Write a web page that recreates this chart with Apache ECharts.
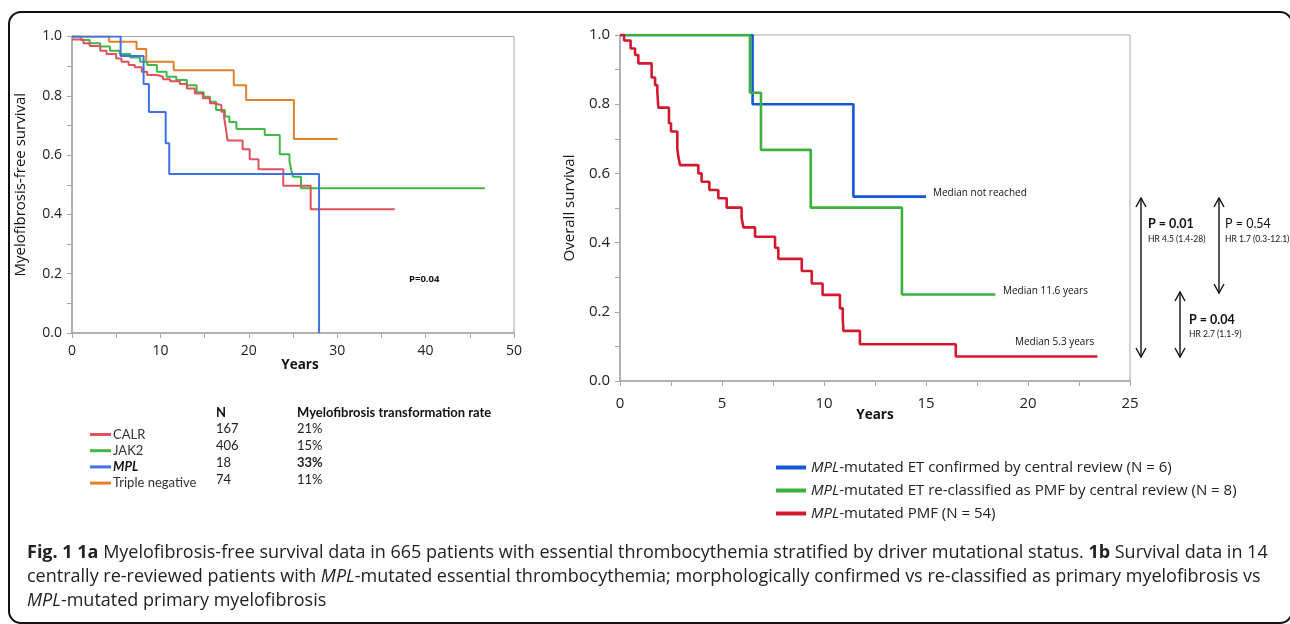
<!DOCTYPE html>
<html>
<head>
<meta charset="utf-8">
<script src="https://cdn.jsdelivr.net/npm/echarts@6/dist/echarts.min.js"></script>
<style>
  html, body { margin: 0; padding: 0; background: #fff; }
  #chart { width: 1290px; height: 624px; }
</style>
</head>
<body>
<div id="chart"></div>
<script>
// fig 1a: myelofibrosis-free survival by driver mutation (years, survival)
const calrT = [0, 1.3, 2.0, 3.2, 3.9, 5.0, 5.6, 6.4, 7.1, 7.9, 8.5, 9.6, 10.3, 11.1, 12.2, 13.0, 13.9, 14.8, 15.6, 16.0, 16.9, 17.2, 17.4, 17.6, 19.3, 20.1, 21.1, 23.9, 27.0, 36.5]
const calrS = [0.99, 0.977, 0.968, 0.952, 0.941, 0.926, 0.915, 0.904, 0.896, 0.881, 0.870, 0.864, 0.856, 0.849, 0.840, 0.825, 0.808, 0.792, 0.775, 0.769, 0.746, 0.728, 0.690, 0.649, 0.620, 0.586, 0.552, 0.497, 0.417, 0.417]
const jak2T = [0, 1.0, 2.0, 3.2, 4.3, 5.4, 6.6, 7.7, 8.5, 9.6, 10.7, 11.8, 13.0, 14.1, 14.9, 15.6, 16.3, 17.3, 17.8, 18.6, 21.8, 23.5, 24.6, 24.8, 25.0, 25.9, 46.7]
const jak2S = [1.0, 0.988, 0.977, 0.966, 0.952, 0.941, 0.929, 0.915, 0.904, 0.881, 0.864, 0.853, 0.836, 0.812, 0.797, 0.780, 0.752, 0.730, 0.712, 0.688, 0.668, 0.603, 0.580, 0.550, 0.527, 0.488, 0.488]
const mplT = [0, 5.5, 8.1, 8.7, 10.6, 11.0, 27.95]
const mplS = [1, 0.934, 0.84, 0.745, 0.64, 0.536, 0]
const tnT = [0, 4.2, 7.3, 8.4, 11.5, 18.3, 19.7, 25.1, 30.05]
const tnS = [1, 0.982, 0.958, 0.915, 0.886, 0.836, 0.786, 0.654, 0.654]

// table next to the 1a legend
const groups = ['CALR', 'JAK2', 'MPL', 'Triple negative']
const groupN = ['167', '406', '18', '74']
const groupRate = ['21%', '15%', '33%', '11%']

// fig 1b: overall survival, MPL-mutated
const etT = [0, 6.5, 11.44, 15.0]
const etS = [1, 0.8, 0.533, 0.533]
const reclT = [0, 6.37, 6.91, 9.35, 13.82, 18.4]
const reclS = [1, 0.833, 0.668, 0.501, 0.25, 0.25]
const pmfT = [0, 0.2, 0.52, 0.74, 0.9, 1.55, 1.72, 1.83, 1.88, 2.4, 2.5, 2.81, 2.86, 2.94, 3.84, 4.0, 4.38, 4.82, 5.23, 5.96, 6.05, 6.62, 7.6, 7.76, 8.91, 9.4, 9.93, 10.78, 10.92, 10.95, 11.76, 16.46, 23.4]
const pmfS = [1, 0.984, 0.961, 0.942, 0.918, 0.877, 0.855, 0.836, 0.79, 0.745, 0.721, 0.672, 0.648, 0.624, 0.6, 0.576, 0.552, 0.528, 0.501, 0.472, 0.444, 0.417, 0.385, 0.353, 0.318, 0.282, 0.249, 0.21, 0.181, 0.145, 0.106, 0.071, 0.071]
const names1b = [
  'MPL-mutated ET confirmed by central review (N = 6)',
  'MPL-mutated ET re-classified as PMF by central review (N = 8)',
  'MPL-mutated PMF (N = 54)'
]

const FONT = '"Open Sans", "Noto Sans", sans-serif'
const FONT2 = 'Lato, "Open Sans", sans-serif'

function pairs (t, s) {
  return t.map((v, i) => [v, s[i]])
}

function km (name, t, s, color, width, idx) {
  return {
    name: name,
    type: 'line',
    step: 'end',
    symbol: 'none',
    xAxisIndex: idx,
    yAxisIndex: idx,
    data: pairs(t, s),
    lineStyle: { color: color, width: width },
    itemStyle: { color: color },
    emphasis: { disabled: true }
  }
}

function xAx (idx, max, step, every, size, margin, gap, pad) {
  return {
    type: 'value',
    gridIndex: idx,
    min: 0,
    max: max,
    interval: step,
    name: 'Years',
    nameLocation: 'middle',
    nameGap: gap,
    nameMoveOverlap: false,
    nameTextStyle: { fontFamily: FONT, fontSize: 13.5, fontWeight: 'bold', color: '#111', padding: pad },
    axisLine: { show: true, lineStyle: { color: '#a6a6a6', width: 1.5 } },
    axisTick: { show: true, length: 5, lineStyle: { color: '#a6a6a6' } },
    axisLabel: {
      margin: margin,
      fontFamily: FONT,
      fontSize: size,
      color: '#222',
      formatter: v => (v % every === 0 ? String(v) : '')
    },
    splitLine: { show: false }
  }
}

function yAx (idx, name, size, gap) {
  return {
    type: 'value',
    gridIndex: idx,
    min: 0,
    max: 1,
    interval: 0.1,
    name: name,
    nameLocation: 'middle',
    nameGap: gap,
    nameTextStyle: { fontFamily: FONT, fontSize: 15, color: '#111' },
    axisLine: { show: true, lineStyle: { color: '#a6a6a6', width: 1.5 } },
    axisTick: { show: true, length: 5, lineStyle: { color: '#a6a6a6' } },
    axisLabel: {
      margin: 10,
      fontFamily: FONT,
      fontSize: size,
      color: '#222',
      formatter: v => (Math.round(v * 10) % 2 === 0 ? v.toFixed(1) : '')
    },
    splitLine: { show: false }
  }
}

function txt (x, y, text, size, weight, family, extra) {
  return {
    type: 'text',
    x: x,
    y: y,
    silent: true,
    style: Object.assign({
      text: text,
      fontSize: size,
      fontWeight: weight || 'normal',
      fontFamily: family || FONT,
      fill: '#111',
      verticalAlign: 'middle'
    }, extra || {})
  }
}

function arrow (x, y1, y2) {
  const s = { stroke: '#111', lineWidth: 1.4, fill: 'none' }
  return [
    { type: 'polyline', silent: true, shape: { points: [[x, y1], [x, y2]] }, style: s },
    { type: 'polyline', silent: true, shape: { points: [[x - 5, y1 + 9], [x, y1], [x + 5, y1 + 9]] }, style: s },
    { type: 'polyline', silent: true, shape: { points: [[x - 5, y2 - 9], [x, y2], [x + 5, y2 - 9]] }, style: s }
  ]
}

const CAP = 18
const capRich = {
  b: { fontWeight: 'bold', fontSize: CAP, fontFamily: FONT, fill: '#222' },
  i: { fontStyle: 'italic', fontSize: CAP, fontFamily: FONT, fill: '#222' }
}

const graphics = [
  {
    type: 'rect',
    silent: true,
    z: -10,
    shape: { x: 9, y: 12, width: 1283, height: 611, r: 12 },
    style: { fill: 'none', stroke: '#111', lineWidth: 2 }
  },
  txt(409, 279, 'P=0.04', 9.5, 'bold', FONT),
  // 1a table
  txt(216, 413, 'N', 13, 'bold', FONT2),
  txt(297, 413, 'Myelofibrosis transformation rate', 13, 'bold', FONT2),
  // 1b medians
  txt(933, 193, 'Median not reached', 10, 'normal', FONT),
  txt(1003, 291, 'Median 11.6 years', 10, 'normal', FONT),
  txt(1015, 342, 'Median 5.3 years', 10, 'normal', FONT),
  // comparisons
  txt(1148, 224, 'P = 0.01', 12.5, 'bold', FONT2),
  txt(1148, 239, 'HR 4.5 (1.4-28)', 8.5, 'normal', FONT2),
  txt(1225, 224, 'P = 0.54', 12.5, 'normal', FONT2),
  txt(1225, 239, 'HR 1.7 (0.3-12.1)', 8.5, 'normal', FONT2),
  txt(1189, 320, 'P = 0.04', 12.5, 'bold', FONT2),
  txt(1189, 334, 'HR 2.7 (1.1-9)', 8.5, 'normal', FONT2),
  // caption
  txt(27, 553, '{b|Fig. 1 1a} Myelofibrosis-free survival data in 665 patients with essential thrombocythemia stratified by driver mutational status. {b|1b} Survival data in 14', CAP, 'normal', FONT, { fill: '#222', rich: capRich }),
  txt(27, 577, 'centrally re-reviewed patients with {i|MPL}-mutated essential thrombocythemia; morphologically confirmed vs re-classified as primary myelofibrosis vs', CAP, 'normal', FONT, { fill: '#222', rich: capRich }),
  txt(27, 601, '{i|MPL}-mutated primary myelofibrosis', CAP, 'normal', FONT, { fill: '#222', rich: capRich })
]
  .concat(arrow(1141, 198, 357))
  .concat(arrow(1219, 198, 293))
  .concat(arrow(1180, 292, 357))

const rowY = [429, 446, 463, 480]
groups.forEach((g, i) => {
  const bold = g === 'MPL' ? 'bold' : 'normal'
  graphics.push(txt(216, rowY[i], groupN[i], 13, 'normal', FONT2, { fill: '#222' }))
  graphics.push(txt(297, rowY[i], groupRate[i], 13, bold, FONT2, { fill: '#222' }))
})

const option = {
  backgroundColor: '#fff',
  animation: false,
  grid: [
    { left: 72, top: 36.5, width: 442, height: 296.5, show: true, borderColor: '#a6a6a6', borderWidth: 1, containLabel: false, outerBoundsMode: 'none' },
    { left: 620, top: 35, width: 510, height: 346, show: true, borderColor: '#a6a6a6', borderWidth: 1, containLabel: false, outerBoundsMode: 'none' }
  ],
  xAxis: [
    xAx(0, 50, 5, 10, 14, 11, 25, [0, 0, 0, 14]),
    xAx(1, 25, 2.5, 5, 15, 15, 27, 0)
  ],
  yAxis: [
    yAx(0, 'Myelofibrosis-free survival', 14, 44),
    yAx(1, 'Overall survival', 15, 43)
  ],
  legend: [
    {
      data: groups,
      orient: 'vertical',
      left: 90,
      top: 428,
      padding: 0,
      icon: 'rect',
      itemWidth: 21,
      itemHeight: 3,
      itemGap: 3.2,
      selectedMode: false,
      textStyle: {
        fontFamily: FONT2, fontSize: 13, color: '#333', lineHeight: 12.5, padding: [0, 0, 0, -3],
        rich: { b: { fontWeight: 'bold', fontStyle: 'italic', fontFamily: FONT2, fontSize: 13, color: '#111' } }
      },
      formatter: name => (name === 'MPL' ? '{b|MPL}' : name)
    },
    {
      data: names1b,
      orient: 'vertical',
      left: 776,
      top: 460,
      padding: 0,
      icon: 'rect',
      itemWidth: 30,
      itemHeight: 4,
      itemGap: 8,
      selectedMode: false,
      textStyle: {
        fontFamily: FONT, fontSize: 15, color: '#222', lineHeight: 15,
        rich: { i: { fontStyle: 'italic', fontFamily: FONT, fontSize: 15, color: '#222' } }
      },
      formatter: name => '{i|MPL}' + name.slice(3)
    }
  ],
  series: [
    km('Triple negative', tnT, tnS, '#e2812b', 2, 0),
    km('JAK2', jak2T, jak2S, '#3fb846', 2, 0),
    km('CALR', calrT, calrS, '#e2505c', 2, 0),
    km('MPL', mplT, mplS, '#3e72e4', 2, 0),
    km(names1b[0], etT, etS, '#1558d6', 2.6, 1),
    km(names1b[1], reclT, reclS, '#3bb03b', 2.6, 1),
    km(names1b[2], pmfT, pmfS, '#d3192f', 2.6, 1)
  ],
  graphic: graphics
}

const chart = echarts.init(document.getElementById('chart'))
chart.setOption(option)
</script>
</body>
</html>
